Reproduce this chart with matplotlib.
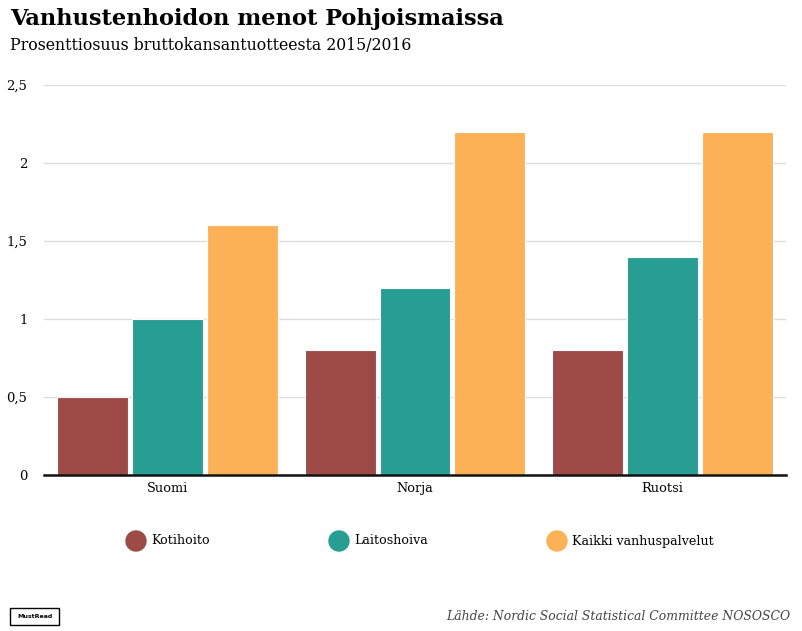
import matplotlib
matplotlib.use("Agg")
import matplotlib.pyplot as plt
import numpy as np
from matplotlib.patches import Rectangle, Ellipse

categories = ["Suomi", "Norja", "Ruotsi"]
series_names = ["Kotihoito", "Laitoshoiva", "Kaikki vanhuspalvelut"]
kotihoito = [0.5, 0.8, 0.8]
laitoshoiva = [1.0, 1.2, 1.4]
kaikki = [1.6, 2.2, 2.2]
yticks = [0, 0.5, 1, 1.5, 2, 2.5]
ytick_labels = ["0", "0,5", "1", "1,5", "2", "2,5"]
colors = ["#9e4b47", "#279d94", "#fcb157"]

W, H = 802, 631
fig = plt.figure(figsize=(W / 100, H / 100), dpi=100)
serif = ["DejaVu Serif"]

ax = fig.add_axes([44 / W, (H - 475) / H, (786 - 44) / W, (475 - 85) / H])
x = np.arange(len(categories))
slot = 0.303
bw = 0.287
for i, vals in enumerate([kotihoito, laitoshoiva, kaikki]):
    ax.bar(x + (i - 1) * slot, vals, width=bw, color=colors[i], edgecolor="white",
           linewidth=0.8, zorder=3)

ax.set_xlim(-0.5, 2.5)
ax.set_ylim(0, 2.5)
ax.set_yticks(yticks)
ax.set_yticklabels(ytick_labels, family=serif, fontsize=9.5)
ax.set_xticks(x)
ax.set_xticklabels(categories, family=serif, fontsize=9.3)
ax.tick_params(axis="both", length=0)
ax.tick_params(axis="y", pad=12)
ax.tick_params(axis="x", pad=5)
ax.grid(axis="y", color="#dddddd", linewidth=1, zorder=0)
for s in ["top", "right", "left"]:
    ax.spines[s].set_visible(False)
ax.spines["bottom"].set_color("#111111")
ax.spines["bottom"].set_linewidth(1.8)
ax.spines["bottom"].set_zorder(5)

# Title & subtitle
fig.text(10 / W, 1 - 19 / H, "Vanhustenhoidon menot Pohjoismaissa", family=serif,
         fontweight="bold", fontsize=16.2, va="center", ha="left")
fig.text(10 / W, 1 - 45 / H, "Prosenttiosuus bruttokansantuotteesta 2015/2016", family=serif,
         fontsize=11.3, va="center", ha="left")

# Legend
leg_x = [136, 339, 557]
for i, name in enumerate(series_names):
    fig.patches.append(Ellipse((leg_x[i] / W, 1 - 541 / H), 20 / W, 20 / H,
                               transform=fig.transFigure, color=colors[i]))
    fig.text((leg_x[i] + 15) / W, 1 - 541 / H, name, family=serif, fontsize=9.1,
             va="center", ha="left")

# Source
fig.text(790 / W, 1 - 617 / H, "Lähde: Nordic Social Statistical Committee NOSOSCO", family=serif,
         style="italic", fontsize=8.9, color="#444444", va="center", ha="right")

# Logo
fig.patches.append(Rectangle((10 / W, 1 - 625 / H), 49 / W, 17 / H, transform=fig.transFigure,
                             facecolor="white", edgecolor="black", linewidth=1))
fig.text(34.5 / W, 1 - 616.5 / H, "MustRead", family=["DejaVu Sans"], fontsize=4.5,
         fontweight="bold", va="center", ha="center")

fig.savefig("out.png", dpi=100)
